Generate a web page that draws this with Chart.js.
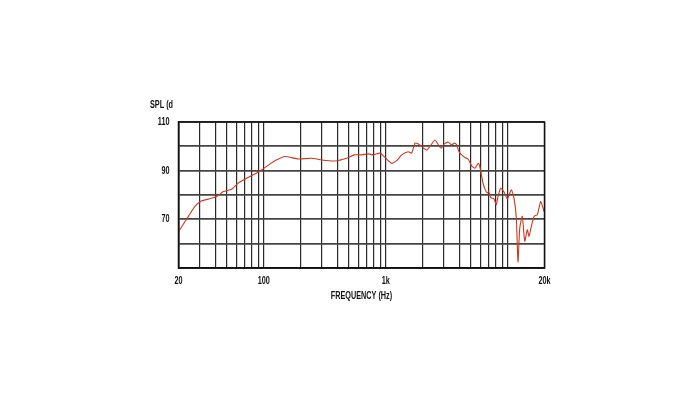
<!DOCTYPE html>
<html>
<head>
<meta charset="utf-8">
<script src="https://cdn.jsdelivr.net/npm/chart.js@4"></script>
<style>
  html, body { margin: 0; padding: 0; background: #fff; }
  #wrap { width: 700px; height: 400px; }
</style>
</head>
<body>
<div id="wrap"><canvas id="spl-chart"></canvas></div>
<script>
/* ---- data ---- */
const freqHz = [20, 24.1, 27.3, 31, 35.1, 41.1, 46.6, 54.6, 61.8, 70.2, 82.1, 96.2, 112.5, 123.6, 149, 192, 247, 299, 384, 478,
  552, 635, 719, 791, 897, 955, 1050, 1120, 1230, 1352, 1530, 1630, 1738, 1850, 1970, 2164, 2348, 2532, 2698, 2838,
  3020, 3254, 3468, 3644, 3812, 3982, 4190, 4456, 4742, 5058, 5384, 5728, 5916, 6266, 6546, 6792, 6982, 7244, 7710, 8054,
  8318, 8750, 9312, 9910, 10690, 11246, 11750, 12134, 12532, 13154, 13774, 14456, 14930, 15596, 16408, 17460, 18620, 19816];
const splDb = [64.9, 71.2, 75.3, 77.6, 78.3, 79.4, 81.4, 82.4, 84.9, 86.5, 88.3, 90.3, 92.8, 94.1, 95.8, 94.8, 95.1, 94.4, 94.0, 95.1,
  96.5, 96.5, 96.9, 96.5, 97.2, 96.1, 94.1, 93.0, 94.1, 96.5, 97.8, 97.2, 101.3, 101.0, 99.9, 98.5, 100.6, 102.6, 100.6, 99.2,
  101.0, 101.7, 100.6, 101.3, 100.6, 97.8, 96.5, 95.4, 94.7, 92.0, 91.0, 93.0, 91.4, 84.9, 82.1, 80.8, 81.4, 79.0, 78.4, 76.0,
  79.4, 82.8, 81.2, 78.4, 82.1, 78.7, 70.5, 52.5, 66.4, 71.2, 61.0, 65.7, 63.0, 67.1, 71.2, 71.9, 77.3, 73.2];

const xGridTicks = [20, 30, 40, 50, 60, 70, 80, 90, 100, 200, 300, 400, 500, 600, 700, 800, 900,
  1000, 2000, 3000, 4000, 5000, 6000, 7000, 8000, 9000, 10000, 20000];
const xTickLabels = { 20: '20', 100: '100', 1000: '1k', 20000: '20k' };
const yTickLabels = [70, 90, 110];
const xTitle = 'FREQUENCY (Hz)';
const yCaption = 'SPL (d';

const FAMILY = '"Liberation Sans", Arial, sans-serif';
const SQUEEZE = 0.66;   // reference uses a condensed face

// condensed text drawn at (x, y)
function narrowText(c, txt, x, y, align) {
  c.save();
  c.translate(x, y);
  c.scale(SQUEEZE, 1);
  c.textAlign = align;
  c.fillText(txt, 0, 0);
  c.restore();
}

// all labels: tick numbers, x title and the SPL caption
const labelPlugin = {
  id: 'labels',
  afterDraw(chart) {
    const c = chart.ctx, xs = chart.scales.x, ys = chart.scales.y, a = chart.chartArea;
    c.save();
    c.fillStyle = '#111';
    c.font = 'bold 11px ' + FAMILY;
    c.textBaseline = 'middle';
    Object.keys(xTickLabels).forEach(k => {
      narrowText(c, xTickLabels[k], xs.getPixelForValue(+k), a.bottom + 13, 'center');
    });
    yTickLabels.forEach(v => {
      narrowText(c, String(v), a.left - 9, ys.getPixelForValue(v), 'right');
    });
    narrowText(c, xTitle, (a.left + a.right) / 2, a.bottom + 28, 'center');
    narrowText(c, yCaption, 150, 105, 'left');
    c.restore();
  }
};

new Chart(document.getElementById('spl-chart'), {
  type: 'line',
  data: {
    datasets: [{
      data: freqHz.map((f, i) => ({ x: f, y: splDb[i] })),
      borderColor: '#cc3a1e', borderWidth: 1.1,
      pointRadius: 0, tension: 0.2, fill: false,
    }],
  },
  options: {
    responsive: true, maintainAspectRatio: false, animation: false,
    layout: { padding: { left: 100, right: 155.5, top: 122, bottom: 100 } },
    plugins: { legend: { display: false }, tooltip: { enabled: false } },
    scales: {
      x: {
        type: 'logarithmic', min: 20, max: 20000,
        afterBuildTicks: s => { s.ticks = xGridTicks.map(v => ({ value: v })); },
        afterFit: s => { s.height = 32; },
        grid: { color: '#2a2a2a', lineWidth: 1.2, drawTicks: false },
        border: { color: '#111', width: 1.5 },
        ticks: { autoSkip: false, maxRotation: 0, callback: () => '' },
      },
      y: {
        min: 50, max: 110,
        afterFit: s => { s.width = 78.5; },
        grid: { color: '#444', lineWidth: 1.8, drawTicks: false },
        border: { color: '#111', width: 1.5 },
        ticks: { stepSize: 10, callback: () => '' },
      },
    },
  },
  plugins: [labelPlugin, {
    id: 'frame',
    afterDatasetsDraw(chart) {
      const a = chart.chartArea, c = chart.ctx;
      c.save(); c.strokeStyle = '#111'; c.lineWidth = 1.5;
      c.strokeRect(a.left, a.top, a.right - a.left, a.bottom - a.top);
      c.restore();
    }
  }],
});
</script>
</body>
</html>
